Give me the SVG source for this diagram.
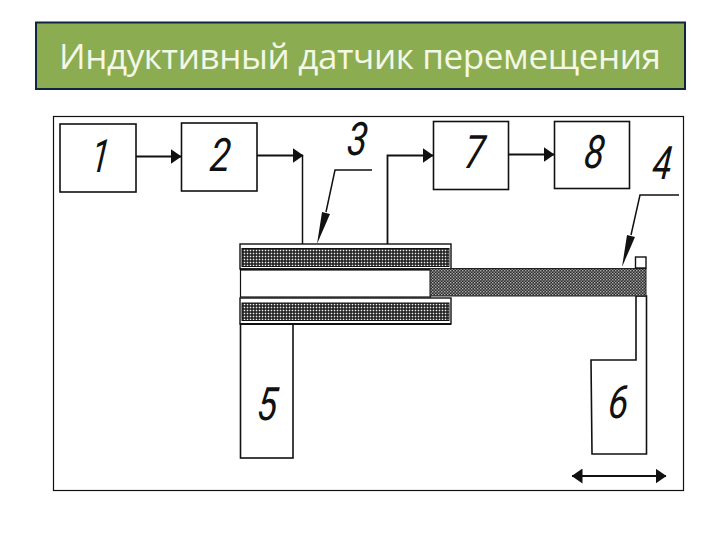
<svg xmlns="http://www.w3.org/2000/svg" width="720" height="540" viewBox="0 0 720 540">
<style>
.b{fill:#fff;stroke:#111;stroke-width:1.6}
.l{fill:none;stroke:#111;stroke-width:1.5}
.a{fill:none;stroke:#111;stroke-width:1.8;marker-end:url(#ah)}
.h{fill:#111}
.d{font-family:"Roboto","Liberation Sans",sans-serif;font-style:italic;font-size:46px;fill:#111;text-anchor:middle;font-weight:400}
</style>
<defs>
<marker id="ah" viewBox="0 0 11 15" refX="10.500" refY="7.500" markerWidth="11" markerHeight="15" markerUnits="userSpaceOnUse" orient="auto-start-reverse"><path d="M0 0L11 7.500L0 15Z" fill="#111"/></marker>
<pattern id="coil" width="3" height="3" patternUnits="userSpaceOnUse"><rect width="3" height="3" fill="#151515"/><rect x="0.700" y="0.700" width="1.600" height="1.600" fill="#f0f0f0"/></pattern>
<pattern id="core" width="3" height="3" patternUnits="userSpaceOnUse"><rect width="3" height="3" fill="#2e2e2e"/><rect width="1.400" height="1.400" fill="#b0b0b0"/><rect x="1.500" y="1.500" width="1.400" height="1.400" fill="#999"/></pattern>
</defs>
<rect width="720" height="540" fill="#fff"/>
<g id="title">
<rect x="36" y="22.500" width="649" height="66.500" fill="#8cac52" stroke="#10253f" stroke-width="2"/>
<text x="59" y="69" font-family="'Open Sans','Noto Sans',sans-serif" font-size="35" fill="#f3f8e6" textLength="602" lengthAdjust="spacing">Индуктивный датчик перемещения</text>
</g>
<rect id="frame" x="53.500" y="116.500" width="630" height="374" fill="#fff" stroke="#111" stroke-width="1.200"/>
<g id="node-1"><rect class="b" x="60" y="124" width="76" height="68"/><text class="d" transform="translate(99 172) skewX(-6) scale(.72 1)">1</text></g>
<g id="node-2"><rect class="b" x="181.500" y="123" width="75.500" height="68"/><text class="d" transform="translate(219 171) skewX(-6) scale(.8 1)">2</text></g>
<g id="node-7"><rect class="b" x="433.500" y="121.500" width="75" height="68"/><text class="d" transform="translate(473 168) skewX(-6) scale(.8 1)">7</text></g>
<g id="node-8"><rect class="b" x="554.500" y="121.500" width="75" height="67"/><text class="d" transform="translate(593 168) skewX(-6) scale(.8 1)">8</text></g>
<g id="node-5"><rect class="b" x="240.500" y="324" width="52.500" height="134"/><text class="d" transform="translate(266 420) skewX(-6) scale(.8 1)">5</text></g>
<g id="node-6"><path class="b" d="M591 360H636V296H646.500V454H592Z"/><text class="d" transform="translate(617 418) skewX(-6) scale(.8 1)">6</text></g>
<g id="coil-top"><rect x="240" y="244" width="211" height="25" fill="#fff" stroke="#111" stroke-width="1.400"/><rect x="242" y="248.500" width="207" height="18" fill="url(#coil)" stroke="#111"/><path d="M240 269.500H451" stroke="#111" stroke-width="2.500"/></g>
<g id="tube"><rect x="240.500" y="270" width="190" height="27" fill="#fff" stroke="#111" stroke-width="1.200"/></g>
<g id="core-4"><rect x="430" y="268.500" width="216" height="27.500" fill="url(#core)" stroke="#222"/><rect x="635.500" y="257" width="10.500" height="11" fill="#fff" stroke="#111" stroke-width="1.400"/></g>
<g id="coil-bottom"><rect x="240" y="298" width="211" height="26" fill="#fff" stroke="#111" stroke-width="1.400"/><rect x="242" y="303" width="207" height="17.500" fill="url(#coil)" stroke="#111"/><path d="M240 324H451" stroke="#111" stroke-width="2"/></g>
<g id="connectors">
<path class="a" d="M136 156.500H181"/>
<path class="a" d="M257 155.500H303"/>
<path class="l" d="M302.500 155V244"/>
<path class="a" d="M387.500 244V155.500H433"/>
<path class="a" d="M508.500 154.500H554"/>
<path class="l" d="M372 170H335L326 212"/>
<path class="h" d="M317 244L322 212L330 214Z"/>
<path class="l" d="M679 195H640L631 235"/>
<path class="h" d="M622 267L627 235L635 237Z"/>
<path d="M572 476H666" class="a" style="marker-start:url(#ah)"/>
</g>
<g id="labels"><text class="d" transform="translate(356 155) skewX(-6) scale(.8 1)">3</text><text class="d" transform="translate(661 179) skewX(-6) scale(.75 1)">4</text></g>
</svg>
